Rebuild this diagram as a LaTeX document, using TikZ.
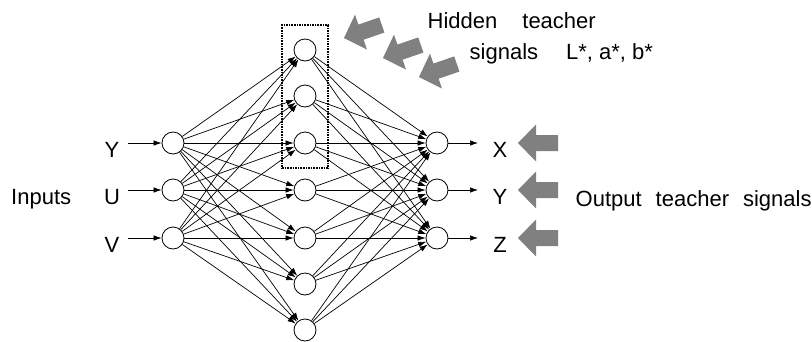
\documentclass[tikz,border=0pt]{standalone}
\usepackage{fontspec}
\setmainfont{Liberation Sans}
\usetikzlibrary{arrows.meta,fit}
\definecolor{teachgray}{RGB}{128,128,128}

% broad grey arrow: tip at the shifted origin, body along +x
\newcommand{\teacharrow}[3]{%
  \fill[teachgray, shift={(#1,#2)}, rotate=#3]
    (0,0) -- (18,-18.5) -- (18,-8) -- (40,-8) -- (40,8) -- (18,8) -- (18,18.5) -- cycle;}

\begin{document}
\begin{tikzpicture}[x=1pt,y=-1pt,
  neuron/.style={circle,draw,line width=0.8pt,minimum size=22pt,inner sep=0pt,fill=white},
  conn/.style={line width=0.7pt,-{Latex[length=8pt,width=5.5pt]}},
  lbl/.style={font=\fontsize{22}{26}\selectfont,inner sep=0pt}]
\useasboundingbox (0,0) rectangle (812,341);

% input layer
\foreach \i/\y in {1/143,2/190,3/238}
  \node[neuron] (i\i) at (173,\y) {};
% hidden layer
\foreach \i/\y in {1/50,2/96,3/143,4/190,5/238,6/284,7/330}
  \node[neuron] (h\i) at (305,\y) {};
% output layer
\foreach \i/\y in {1/143,2/190,3/238}
  \node[neuron] (o\i) at (437,\y) {};

% full connections
\foreach \a in {1,2,3}
  \foreach \b in {1,...,7}
    \draw[conn] (i\a) -- (h\b);
\foreach \b in {1,...,7}
  \foreach \c in {1,2,3}
    \draw[conn] (h\b) -- (o\c);

% box round the hidden units that get teacher signals
\node[draw,densely dotted,line width=1.6pt,inner xsep=11.5pt,inner ysep=13.5pt,fit=(h1)(h3)] (hbox) {};

% input labels and arrows
\foreach \i/\t/\y in {1/Y/143,2/U/190,3/V/238}{
  \node[lbl,anchor=base] (in\i) at (112,\y+14) {\t};
  \coordinate (ia\i) at (128,\y);
  \draw[conn] (ia\i) -- (i\i);
}
\node[lbl,anchor=base west] (inputs) at (11,204) {Inputs};

% output labels and arrows
\foreach \i/\t/\y in {1/X/143,2/Y/190,3/Z/238}{
  \node[lbl,anchor=base] (out\i) at (500,\y+14) {\t};
  \coordinate (oa\i) at (478,\y);
  \draw[conn] (o\i) -- (oa\i);
  \teacharrow{518}{\y}{0}
}
\node[lbl,anchor=base west] (otext) at (575.5,206)
  {Output\hspace{14pt}teacher\hspace{14pt}signals};

% hidden teacher signals
\teacharrow{344}{38}{19}
\teacharrow{383}{58}{19}
\teacharrow{419}{77}{19}
\node[lbl,anchor=base west] (htext1) at (427.5,28) {Hidden\hspace{25pt}teacher};
\node[lbl,anchor=base west] (htext2) at (469.5,59) {signals\hspace{28pt}L*, a*, b*};
\end{tikzpicture}
\end{document}
